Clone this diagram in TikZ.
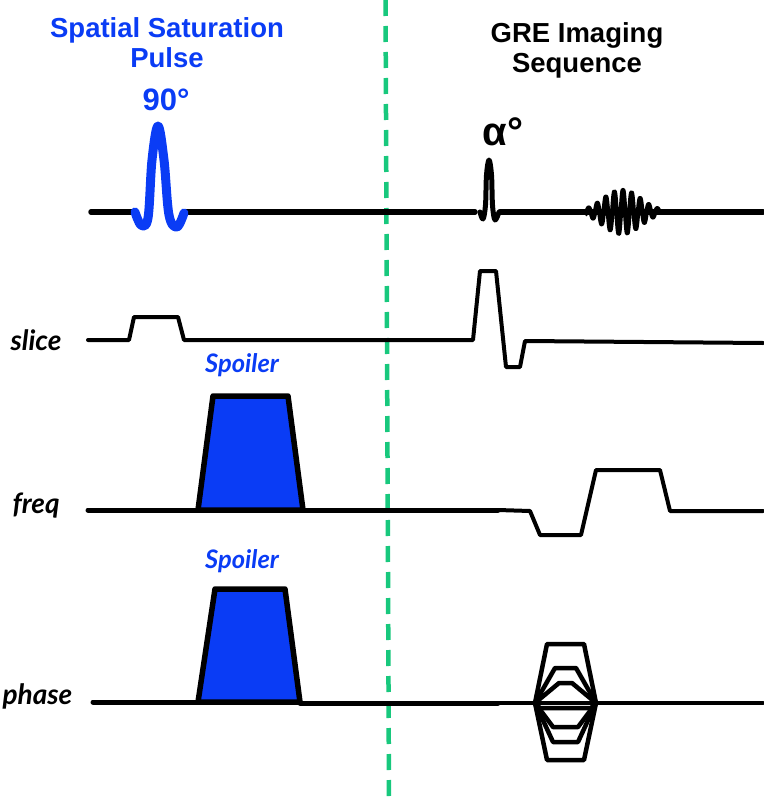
\documentclass[tikz,border=0pt]{standalone}
\usepackage{fontspec}
\setmainfont{Liberation Sans}
\newfontfamily\labelfont{Lato}
\usetikzlibrary{arrows}
\definecolor{pulseblue}{RGB}{10,60,245}
\definecolor{dividegreen}{RGB}{24,200,125}
\tikzset{
	heavyline/.style={line width=5pt},
	thinline/.style={line width=4pt},
	title/.style={font=\bfseries\fontsize{27.5}{30}\selectfont,align=center},
	axislabel/.style={font=\labelfont\bfseries\itshape\fontsize{28}{30}\selectfont,anchor=west},
	spoilerlabel/.style={font=\labelfont\bfseries\itshape\fontsize{25.5}{28}\selectfont,text=pulseblue},
	spoiler/.style={draw=black,fill=pulseblue,line width=5.5pt}
}
\begin{document}
\begin{tikzpicture}[line cap=round,line join=round,>=triangle 45,x=1pt,y=-1pt]
	\useasboundingbox (0,0) rectangle (763,800);
	
	\draw [dividegreen,line width=4.5pt,line cap=butt,dash pattern=on 16pt off 10pt] (385.5,0)-- (389,800);
	
	\draw (167,43) node[title,text=pulseblue] (satlabel) {Spatial Saturation\\Pulse};
	\draw (166,100) node[title,text=pulseblue,font=\bfseries\fontsize{31}{34}\selectfont] (ninety) {90°};
	\draw (577,50) node[title] (grelabel) {GRE Imaging\\Sequence};
	\draw (503,132) node[title,font=\bfseries\fontsize{40}{44}\selectfont] (alpha) {α°};
	
	\draw (7,340) node[axislabel] (slice) {slice};
	\draw (9,506) node[axislabel] (freq) {freq};
	\draw (-1,696) node[axislabel] (phase) {phase};
	\draw (242,365) node[spoilerlabel] (spoilerone) {Spoiler};
	\draw (242,561) node[spoilerlabel] (spoilertwo) {Spoiler};
	
	% rf line
	\draw [line width=5.5pt] (91,212)-- (133,212);
	\draw [line width=5.5pt] (184,212)-- (475,212);
	\draw [line width=5.5pt] (500,212)-- (763,212);
	\draw [pulseblue,line width=9pt] plot [smooth,tension=0.6] coordinates {(135,212) (141,225) (148,218) (152,160) (158,126) (164,160) (169,215) (177,227) (184,213)};
	\draw [line width=5pt] plot [smooth,tension=0.6] coordinates {(480,212) (483,219) (485.5,205) (486.5,175) (489,160) (491.5,175) (492.5,205) (495,220) (499,212)};
	\draw [line width=4.5pt,line cap=butt,domain=585:660,samples=600] plot (\x,{212-(19*cos(180*(\x-622)/80)^2+3)*cos(360*(\x-623)/8.6)});
	
	% slice line
	\draw [thinline] (88,340)-- (129,340)-- (134,317)-- (178,317)-- (184,340)-- (473,340)-- (480,271)-- (496,271)-- (506,367)-- (520,367)-- (525,341)-- (763,343);
	
	% freq line
	\draw [spoiler] (198,510)-- (213,396)-- (288,396)-- (303,510)-- cycle;
	\draw [heavyline] (88,510)-- (198,510);
	\draw [heavyline] (303,510)-- (498,510);
	\draw [thinline] (498,510)-- (530,511)-- (540,535)-- (581,535)-- (596,470)-- (660,470)-- (670,511)-- (763,511);
	
	% phase line
	\draw [spoiler] (198,702)-- (215,589)-- (285,589)-- (300,702)-- cycle;
	\draw [heavyline] (93,702)-- (198,702);
	\draw [heavyline] (300,703)-- (498,703);
	\draw [thinline] (498,703)-- (763,703);
	\foreach \lev/\off in {644/12,668/20,683/24,708/5,727/18,742/18,760/12}
		\draw [line width=4.5pt] (535,703)-- (535+\off,\lev)-- (596-\off,\lev)-- (596,703);
\end{tikzpicture}
\end{document}
